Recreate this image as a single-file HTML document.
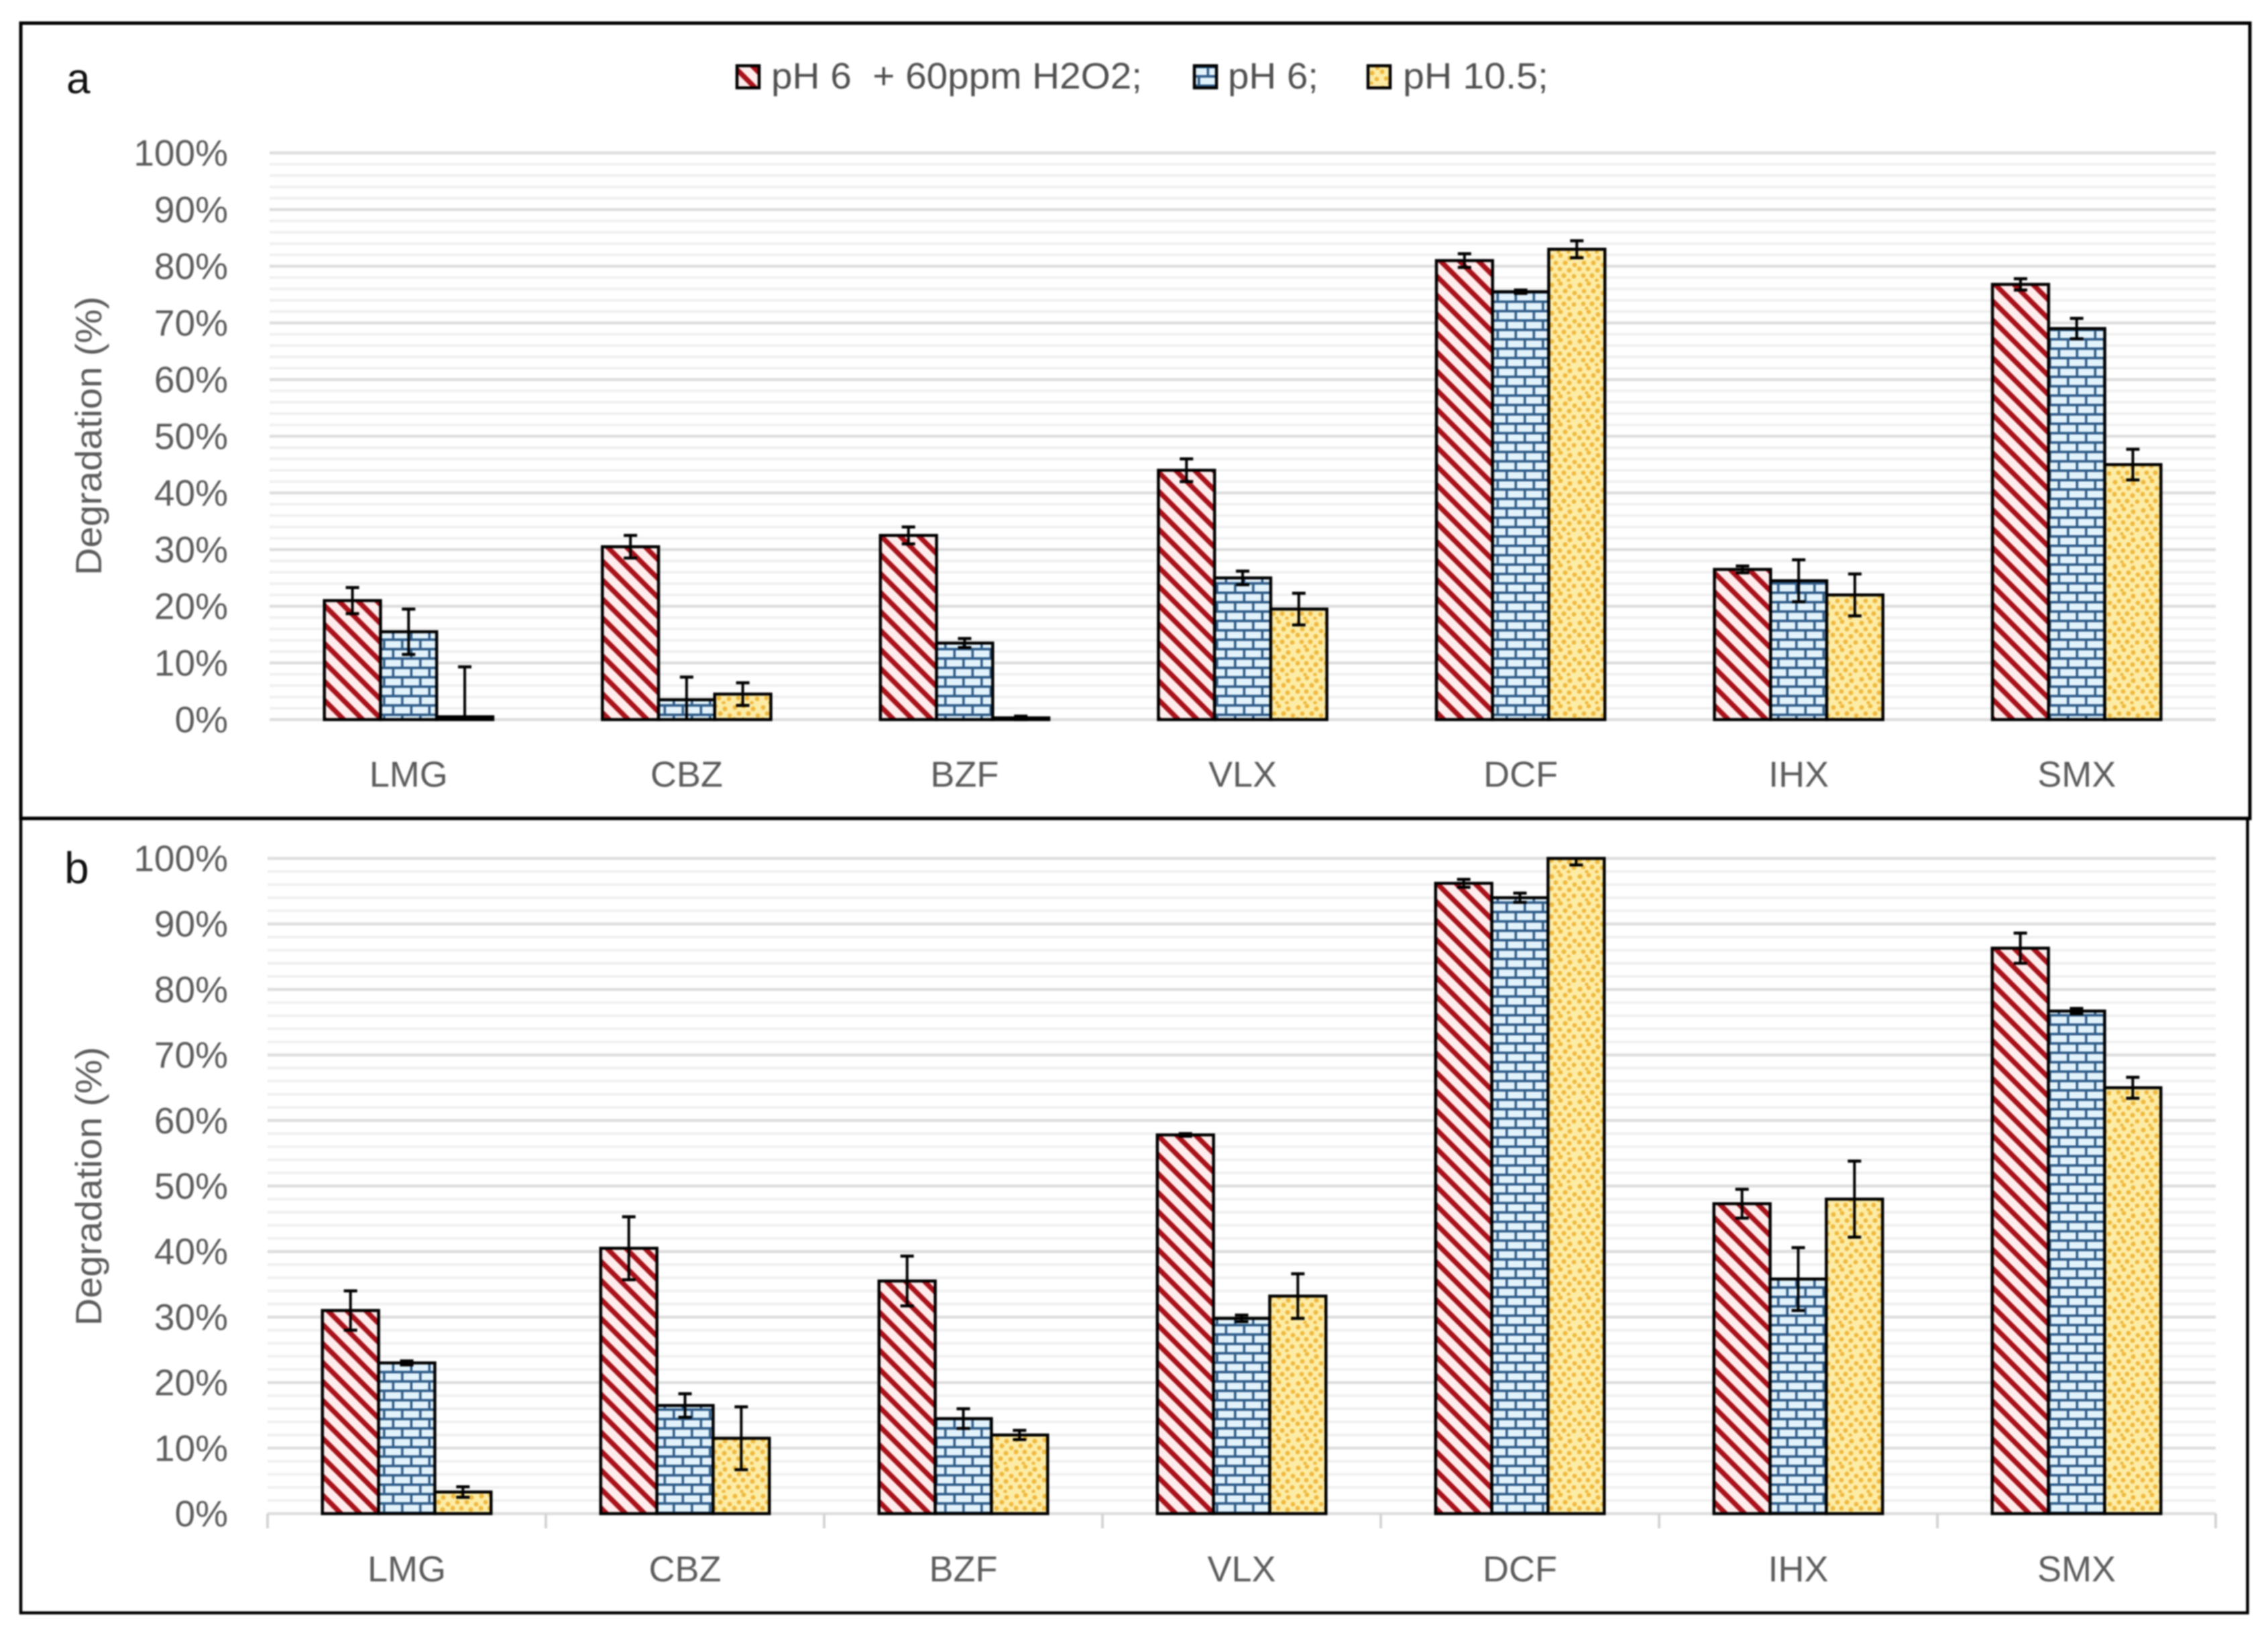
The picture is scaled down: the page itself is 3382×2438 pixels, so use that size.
<!DOCTYPE html>
<html lang="en">
<head>
<meta charset="utf-8">
<title>Degradation chart</title>
<style>
html,body{margin:0;padding:0;background:#fff;width:3382px;height:2438px;overflow:hidden}
svg{display:block;filter:blur(1.1px)}
text{font-family:"Liberation Sans",sans-serif}
</style>
</head>
<body>
<svg id="chart" xmlns="http://www.w3.org/2000/svg" width="3382" height="2438" viewBox="0 0 3382 2438">
<defs>
<pattern id="hatch-red" patternUnits="userSpaceOnUse" width="20" height="20" patternTransform="rotate(-45)">
<rect width="20" height="20" fill="#ffecec"/>
<rect width="7.5" height="20" fill="#a8121a"/>
</pattern>
<pattern id="hatch-brick" patternUnits="userSpaceOnUse" width="27" height="28">
<rect width="27" height="28" fill="#e3f3fc"/>
<rect y="0" width="27" height="3.8" fill="#2f5c88"/>
<rect y="14" width="27" height="3.8" fill="#2f5c88"/>
<rect x="4" y="0" width="3.6" height="14" fill="#2f5c88"/>
<rect x="17.5" y="14" width="3.6" height="14" fill="#2f5c88"/>
</pattern>
<pattern id="hatch-dots" patternUnits="userSpaceOnUse" width="42" height="42">
<rect width="42" height="42" fill="#fdeca6"/>
<g fill="#efb93f">
<circle cx="4" cy="5" r="3.6"/><circle cx="17" cy="3" r="3.4"/><circle cx="31" cy="7" r="3.6"/>
<circle cx="10" cy="14" r="3.4"/><circle cx="24" cy="14" r="3.6"/><circle cx="38" cy="17" r="3.4"/>
<circle cx="3" cy="23" r="3.6"/><circle cx="16" cy="23" r="3.4"/><circle cx="30" cy="25" r="3.6"/>
<circle cx="9" cy="33" r="3.4"/><circle cx="22" cy="33" r="3.6"/><circle cx="37" cy="34" r="3.4"/>
<circle cx="14" cy="40" r="2.8"/><circle cx="29" cy="40" r="2.8"/>
</g>
</pattern>
</defs>
<rect width="3382" height="2438" fill="#fff"/>

<g id="panel-a"></g>
<g id="panel-b"></g>

<rect x="31" y="1220" width="3320.5" height="1185" fill="none" stroke="#000" stroke-width="4.5"/>
<rect x="31" y="34.5" width="3324" height="1186" fill="none" stroke="#000" stroke-width="5"/>

<text x="99" y="139" font-size="64" fill="#111">a</text>
<text x="96" y="1317" font-size="66" fill="#111">b</text>

<g>
<rect x="1099" y="98" width="33" height="33" fill="url(#hatch-red)" stroke="#000" stroke-width="4.5"/>
<text x="1150" y="132" font-size="55" fill="#505050" textLength="553" lengthAdjust="spacingAndGlyphs" xml:space="preserve">pH 6  + 60ppm H2O2;</text>
<rect x="1781" y="98" width="33" height="33" fill="url(#hatch-brick)" stroke="#000" stroke-width="4.5"/>
<text x="1831" y="132" font-size="55" fill="#505050" textLength="135" lengthAdjust="spacingAndGlyphs">pH 6;</text>
<rect x="2040" y="98" width="33" height="33" fill="url(#hatch-dots)" stroke="#000" stroke-width="4.5"/>
<text x="2092" y="132" font-size="55" fill="#505050" textLength="217" lengthAdjust="spacingAndGlyphs">pH 10.5;</text>
</g>
</svg>

<script>
const categories = ["LMG", "CBZ", "BZF", "VLX", "DCF", "IHX", "SMX"];
const yTicks = [0, 10, 20, 30, 40, 50, 60, 70, 80, 90, 100];
const yMinorTicks = [2, 4, 6, 8];
const seriesNames = ["peroxide", "ph6", "ph105"];

const panelAPeroxide = [21, 30.5, 32.5, 44, 81, 26.5, 76.8];
const panelAPh6 = [15.5, 3.5, 13.5, 25, 75.5, 24.5, 69];
const panelAPh105 = [0.5, 4.5, 0.3, 19.5, 83, 22, 45];
const panelAPeroxideErr = [2.3, 2, 1.5, 2, 1.2, 0.6, 1];
const panelAPh6Err = [4, 4, 0.8, 1.2, 0.3, 3.7, 1.8];
const panelAPh105Err = [8.8, 2, 0.3, 2.8, 1.5, 3.7, 2.7];

const panelBPeroxide = [31, 40.5, 35.5, 57.8, 96.2, 47.3, 86.3];
const panelBPh6 = [23, 16.5, 14.5, 29.8, 94, 35.8, 76.7];
const panelBPh105 = [3.3, 11.5, 12, 33.2, 100, 48, 65];
const panelBPeroxideErr = [3, 4.8, 3.8, 0.2, 0.6, 2.2, 2.3];
const panelBPh6Err = [0.3, 1.8, 1.5, 0.5, 0.7, 4.8, 0.4];
const panelBPh105Err = [0.8, 4.8, 0.7, 3.4, 1, 5.8, 1.6];

const NS = "http://www.w3.org/2000/svg";

function svgEl(tag, parent, attrs) {
  const el = document.createElementNS(NS, tag);
  for (const k in attrs) el.setAttribute(k, attrs[k]);
  parent.appendChild(el);
  return el;
}

function drawPanel(cfg) {
  const root = document.getElementById(cfg.id);
  const plotW = cfg.right - cfg.left;
  const catW = plotW / categories.length;
  const barW = catW * 0.202;
  const y = v => cfg.y0 + (cfg.y100 - cfg.y0) * v / 100;
  const x = (c, s) => cfg.left + catW * (c + 0.5) + barW * (s - 1.5);

  yTicks.forEach(t => {
    if (t < 100) {
      yMinorTicks.forEach(m => {
        const minor = svgEl("line", root, {x1: cfg.left, x2: cfg.right, y1: y(t + m), y2: y(t + m), stroke: "#f0f0f0", "stroke-width": 4});
        
        
      });
    }
  });
  yTicks.forEach(t => {
    const major = svgEl("line", root, {x1: cfg.left, x2: cfg.right, y1: y(t), y2: y(t), stroke: "#dedede", "stroke-width": 4.5});
    
    
    const label = svgEl("text", root, {x: 340, y: y(t) + 19, "text-anchor": "end", "font-size": 55, fill: "#5c5c5c"});
    label.textContent = t + "%";
    
    
  });

  const yTitle = svgEl("text", root, {
    x: 0, y: 0, "font-size": 55, fill: "#5c5c5c", "text-anchor": "middle",
    transform: "translate(" + 151 + "," + cfg.titleY + ") rotate(-90)",
    textLength: 416, lengthAdjust: "spacingAndGlyphs"
  });
  yTitle.textContent = "Degradation (%)";
  
  

  if (cfg.ticks) {
    for (let c = 0; c <= categories.length; c++) {
      const tick = svgEl("line", root, {x1: cfg.left + catW * c, x2: cfg.left + catW * c, y1: cfg.y0, y2: cfg.y0 + 22, stroke: "#d4d4d4", "stroke-width": 4});
      
      
    }
  }

  categories.forEach((name, c) => {
    const label = svgEl("text", root, {x: cfg.left + catW * (c + 0.5), y: cfg.labelY, "text-anchor": "middle", "font-size": 54, fill: "#5c5c5c"});
    label.textContent = name;
    
    
  });

  const fills = ["url(#hatch-red)", "url(#hatch-brick)", "url(#hatch-dots)"];
  cfg.series.forEach((vals, s) => {
    vals.forEach((v, c) => {
      const bar = svgEl("rect", root, {x: x(c, s), y: y(v), width: barW, height: y(0) - y(v), fill: fills[s], stroke: "#000", "stroke-width": 4.5});
      
      
    });
  });
  cfg.series.forEach((vals, s) => {
    vals.forEach((v, c) => {
      const e = cfg.errors[s][c];
      const cx = x(c, s) + barW / 2;
      const hiV = v + e, loV = v - e;
      const stem = svgEl("line", root, {x1: cx, x2: cx, y1: y(Math.min(hiV, 100)), y2: y(Math.max(loV, 0)), stroke: "#000", "stroke-width": 4});
      
      
      [hiV, loV].forEach(val => {
        if (val > 100 || val < 0) return;
        const cap = svgEl("line", root, {x1: cx - 10, x2: cx + 10, y1: y(val), y2: y(val), stroke: "#000", "stroke-width": 4.5});
        
        
      });
    });
  });
}

drawPanel({
  id: "panel-a", left: 402, right: 3304, y0: 1073, y100: 228, titleY: 650, labelY: 1173, ticks: false,
  series: [panelAPeroxide, panelAPh6, panelAPh105],
  errors: [panelAPeroxideErr, panelAPh6Err, panelAPh105Err]
});
drawPanel({
  id: "panel-b", left: 399, right: 3304, y0: 2257, y100: 1280, titleY: 1769, labelY: 2358, ticks: true,
  series: [panelBPeroxide, panelBPh6, panelBPh105],
  errors: [panelBPeroxideErr, panelBPh6Err, panelBPh105Err]
});
</script>
</body>
</html>
